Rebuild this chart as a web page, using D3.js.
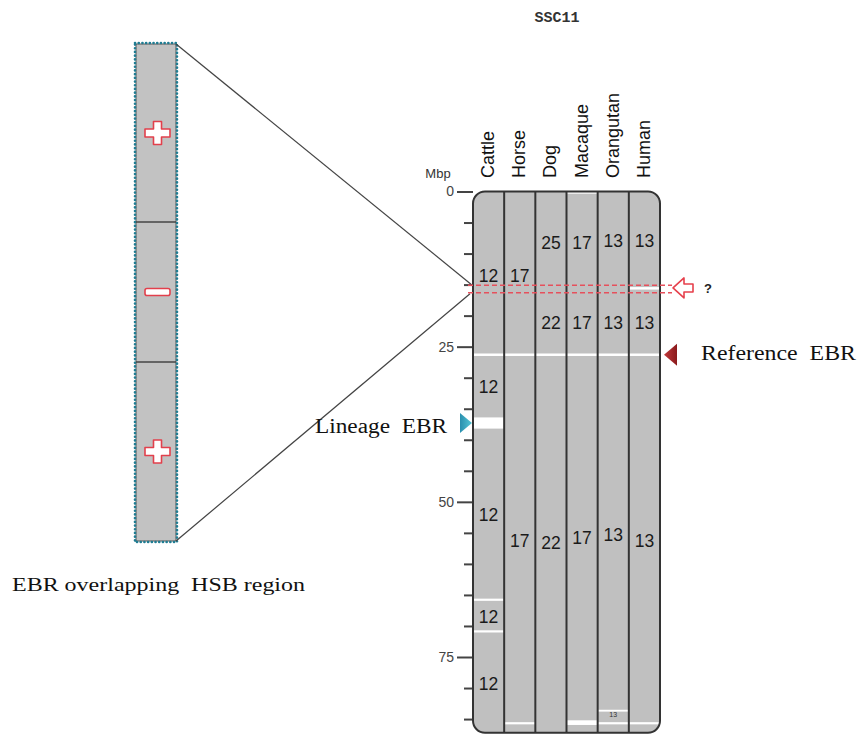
<!DOCTYPE html>
<html>
<head>
<meta charset="utf-8">
<script src="https://cdn.jsdelivr.net/npm/d3@7"></script>
<style>
  html, body { margin: 0; padding: 0; background: #fff; }
  svg { display: block; }
  .pre { white-space: pre; }
</style>
</head>
<body>
<svg id="chart" width="857" height="736"></svg>
<script>
// ---------------- DATA ----------------
const title = "SSC11";
const species = ["Cattle", "Horse", "Dog", "Macaque", "Orangutan", "Human"];
const chromLength = 87.2; // Mbp
const majorTicks = [0, 25, 50, 75];
const minorTicks = [5, 10, 15, 20, 30, 35, 40, 45, 55, 60, 65, 70, 80, 85];

// white breakpoint gaps per species [start, end] in Mbp
const gapsCattle    = [[26.1, 26.5], [36.4, 38.2], [65.6, 65.95], [70.7, 71.05]];
const gapsHorse     = [[26.1, 26.5], [85.5, 85.85]];
const gapsDog       = [[26.1, 26.5]];
const gapsMacaque   = [[0.0, 0.35], [26.1, 26.5], [85.2, 85.95]];
const gapsOrangutan = [[26.1, 26.5], [83.5, 83.8], [85.5, 85.85]];
const gapsHuman     = [[15.4, 15.8], [26.1, 26.5], [85.5, 85.85]];

// homologous chromosome labels per species [position Mbp, label]
const labelsCattle    = [[13.5, "12"], [31.5, "12"], [52.0, "12"], [68.5, "12"], [79.3, "12"]];
const labelsHorse     = [[13.5, "17"], [56.2, "17"]];
const labelsDog       = [[8.2, "25"], [21.2, "22"], [56.6, "22"]];
const labelsMacaque   = [[8.2, "17"], [21.2, "17"], [55.8, "17"]];
const labelsOrangutan = [[7.9, "13"], [21.2, "13"], [55.3, "13"]];
const labelsHuman     = [[7.9, "13"], [21.2, "13"], [56.3, "13"]];
const smallLabelsOrangutan = [[84.2, "13"]];

// EBR markers (Mbp)
const referenceEBR = 26.3;
const lineageEBR = 37.3;
const hsbRegion = [15.1, 16.3]; // dashed red lines (region in question)

// Inset (enlarged HSB region)
const insetSigns = ["+", "−", "+"];
const insetFractions = [0.358, 0.282, 0.360];

// ---------------- DRAWING ----------------
const gapsBySpecies = [gapsCattle, gapsHorse, gapsDog, gapsMacaque, gapsOrangutan, gapsHuman];
const labelsBySpecies = [labelsCattle, labelsHorse, labelsDog, labelsMacaque, labelsOrangutan, labelsHuman];

const svg = d3.select("#chart");
const grayFill = "#c0c0c0";
const dark = "#333";
const sans = "Arial, Liberation Sans, sans-serif";
const serif = "Liberation Serif, Times New Roman, serif";

const y = d3.scaleLinear().domain([0, 75]).range([191.5, 657]);
const x = d3.scaleBand().domain(species).range([473, 660]).padding(0);

const boxTop = y(0), boxBottom = y(chromLength);
const boxLeft = x.range()[0], boxRight = x.range()[1];

// title
svg.append("text")
  .attr("x", 557).attr("y", 22)
  .attr("text-anchor", "middle")
  .attr("font-family", "Liberation Mono, DejaVu Sans Mono, monospace")
  .attr("font-size", 15)
  .attr("font-weight", "bold")
  .attr("fill", "#333")
  .text(title);

// column headers
svg.append("g").selectAll("text")
  .data(species).join("text")
  .attr("transform", d => `translate(${x(d) + x.bandwidth() / 2 + 5.5},178) rotate(-90)`)
  .attr("text-anchor", "start")
  .attr("font-family", sans)
  .attr("font-size", 18)
  .attr("fill", "#111")
  .text(d => d);

// Mbp label
svg.append("text")
  .attr("x", 438).attr("y", 178)
  .attr("text-anchor", "middle")
  .attr("font-family", sans)
  .attr("font-size", 13)
  .attr("fill", "#333")
  .text("Mbp");

// axis (major)
const axisMajor = d3.axisLeft(y).tickValues(majorTicks).tickSize(16).tickPadding(3).tickFormat(d3.format("d"));
const gMaj = svg.append("g").attr("transform", `translate(${boxLeft},0)`).call(axisMajor);
gMaj.select(".domain").remove();
gMaj.selectAll("line").attr("stroke", "#444").attr("stroke-width", 2);
gMaj.selectAll("text").attr("font-family", sans).attr("font-size", 14).attr("fill", "#444");

const axisMinor = d3.axisLeft(y).tickValues(minorTicks).tickSize(9).tickFormat("");
const gMin = svg.append("g").attr("transform", `translate(${boxLeft},0)`).call(axisMinor);
gMin.select(".domain").remove();
gMin.selectAll("line").attr("stroke", "#444").attr("stroke-width", 2);

// chromosome box
const defs = svg.append("defs");
defs.append("clipPath").attr("id", "boxClip")
  .append("rect")
  .attr("x", boxLeft).attr("y", boxTop)
  .attr("width", boxRight - boxLeft).attr("height", boxBottom - boxTop)
  .attr("rx", 12);

svg.append("rect")
  .attr("x", boxLeft).attr("y", boxTop)
  .attr("width", boxRight - boxLeft).attr("height", boxBottom - boxTop)
  .attr("rx", 12)
  .attr("fill", grayFill);

const gGaps = svg.append("g").attr("clip-path", "url(#boxClip)");
species.forEach((sp, i) => {
  gGaps.selectAll(null)
    .data(gapsBySpecies[i]).join("rect")
    .attr("x", x(sp)).attr("width", x.bandwidth())
    .attr("y", d => y(d[0])).attr("height", d => Math.max(1.5, y(d[1]) - y(d[0])))
    .attr("fill", "#fff");
});

// column separators
svg.append("g").selectAll("line")
  .data(species.slice(1)).join("line")
  .attr("x1", d => x(d)).attr("x2", d => x(d))
  .attr("y1", boxTop).attr("y2", boxBottom)
  .attr("stroke", dark).attr("stroke-width", 2);

svg.append("rect")
  .attr("x", boxLeft).attr("y", boxTop)
  .attr("width", boxRight - boxLeft).attr("height", boxBottom - boxTop)
  .attr("rx", 12)
  .attr("fill", "none").attr("stroke", dark).attr("stroke-width", 2);

// labels
species.forEach((sp, i) => {
  svg.append("g").selectAll("text")
    .data(labelsBySpecies[i]).join("text")
    .attr("x", x(sp) + x.bandwidth() / 2)
    .attr("y", d => y(d[0]))
    .attr("dy", "0.36em")
    .attr("text-anchor", "middle")
    .attr("font-family", sans)
    .attr("font-size", 17.5)
    .attr("fill", "#1a1a1a")
    .text(d => d[1]);
});
svg.append("g").selectAll("text")
  .data(smallLabelsOrangutan).join("text")
  .attr("x", x("Orangutan") + x.bandwidth() / 2)
  .attr("y", d => y(d[0]))
  .attr("dy", "0.36em")
  .attr("text-anchor", "middle")
  .attr("font-family", sans)
  .attr("font-size", 7)
  .attr("fill", "#333")
  .text(d => d[1]);

// inset box
const insetX = 136, insetW = 40;
const iy = d3.scaleLinear().domain([0, 1]).range([44, 541]);
const cum = [0];
insetFractions.forEach(f => cum.push(cum[cum.length - 1] + f));

svg.append("rect")
  .attr("x", insetX).attr("y", iy(0)).attr("width", insetW).attr("height", iy(1) - iy(0))
  .attr("fill", "#c2c2c2").attr("stroke", "#555").attr("stroke-width", 1);
svg.append("rect")
  .attr("x", insetX - 1).attr("y", iy(0) - 1).attr("width", insetW + 2).attr("height", iy(1) - iy(0) + 2)
  .attr("fill", "none").attr("stroke", "#1f7c92").attr("stroke-width", 2.6)
  .attr("stroke-dasharray", "0.1,3.6").attr("stroke-linecap", "round");
svg.append("g").selectAll("line")
  .data(cum.slice(1, -1)).join("line")
  .attr("x1", insetX).attr("x2", insetX + insetW)
  .attr("y1", d => iy(d)).attr("y2", d => iy(d))
  .attr("stroke", "#444").attr("stroke-width", 1.5);

const signColor = "#e2404c";
insetSigns.forEach((s, i) => {
  const cy = (iy(cum[i]) + iy(cum[i + 1])) / 2;
  const cx = insetX + insetW / 2 + 1.5;
  const a = 12.5, t = 4;
  if (s === "+") {
    const p = `M${cx - t},${cy - a + 1} h${2 * t} v${a - t - 1} h${a - t} v${2 * t} h${-(a - t)} v${a - t - 1} h${-2 * t} v${-(a - t - 1)} h${-(a - t)} v${-2 * t} h${a - t} Z`;
    svg.append("path").attr("d", p).attr("fill", "#fff").attr("stroke", signColor).attr("stroke-width", 1.6).attr("stroke-linejoin", "round");
  } else {
    svg.append("rect").attr("x", cx - a).attr("y", cy - 3.5).attr("width", 2 * a).attr("height", 7).attr("rx", 2)
      .attr("fill", "#fff").attr("stroke", signColor).attr("stroke-width", 1.6);
  }
});

// connector lines
svg.append("line").attr("x1", insetX + insetW).attr("y1", iy(0)).attr("x2", 471).attr("y2", y(hsbRegion[0]) - 1)
  .attr("stroke", "#444").attr("stroke-width", 1.2);
svg.append("line").attr("x1", insetX + insetW).attr("y1", iy(1)).attr("x2", 470).attr("y2", y(hsbRegion[1]) + 1)
  .attr("stroke", "#444").attr("stroke-width", 1.2);

// dashed red lines
svg.append("g").selectAll("line")
  .data(hsbRegion).join("line")
  .attr("x1", 468).attr("x2", 672)
  .attr("y1", d => y(d)).attr("y2", d => y(d))
  .attr("stroke", "#e6505c").attr("stroke-width", 1.5)
  .attr("stroke-dasharray", "5,3");

// open arrow pointing left
const ay = (y(hsbRegion[0]) + y(hsbRegion[1])) / 2 - 1;
svg.append("path")
  .attr("d", `M673,${ay} L684,${ay - 10} L684,${ay - 4} L693,${ay - 4} L693,${ay + 4} L684,${ay + 4} L684,${ay + 10} Z`)
  .attr("fill", "#fff").attr("stroke", "#e6404c").attr("stroke-width", 1.6).attr("stroke-linejoin", "round");
svg.append("text").attr("x", 704).attr("y", ay + 5)
  .attr("font-family", sans).attr("font-weight", "bold")
  .attr("font-size", 13).attr("fill", "#222").text("?");

// reference EBR marker
const ry = y(referenceEBR);
const redGrad = defs.append("linearGradient").attr("id", "redGrad").attr("x1", "0").attr("x2", "1").attr("y1", "0").attr("y2", "0");
redGrad.append("stop").attr("offset", "0%").attr("stop-color", "#c0393b");
redGrad.append("stop").attr("offset", "100%").attr("stop-color", "#8a1a1c");
svg.append("path").attr("d", `M664,${ry} L677,${ry - 11} L677,${ry + 11} Z`).attr("fill", "url(#redGrad)");
svg.append("text").attr("class", "pre").attr("x", 701).attr("y", ry + 5)
  .attr("font-family", serif).attr("font-size", 20)
  .attr("textLength", 155).attr("lengthAdjust", "spacingAndGlyphs")
  .attr("fill", "#111").text("Reference  EBR");

// lineage EBR marker
const ly = y(lineageEBR);
const tealGrad = defs.append("linearGradient").attr("id", "tealGrad").attr("x1", "0").attr("x2", "1").attr("y1", "0").attr("y2", "0");
tealGrad.append("stop").attr("offset", "0%").attr("stop-color", "#2a8fae");
tealGrad.append("stop").attr("offset", "100%").attr("stop-color", "#55c6d6");
svg.append("path").attr("d", `M472,${ly} L460,${ly - 10} L460,${ly + 10} Z`).attr("fill", "url(#tealGrad)");
svg.append("text").attr("class", "pre").attr("x", 315).attr("y", ly + 10)
  .attr("font-family", serif).attr("font-size", 20)
  .attr("textLength", 132).attr("lengthAdjust", "spacingAndGlyphs")
  .attr("fill", "#111").text("Lineage  EBR");

// bottom-left caption
svg.append("text").attr("class", "pre").attr("x", 12).attr("y", 591)
  .attr("font-family", serif).attr("font-size", 19)
  .attr("textLength", 293).attr("lengthAdjust", "spacingAndGlyphs")
  .attr("fill", "#111").text("EBR overlapping  HSB region");
</script>
</body>
</html>
